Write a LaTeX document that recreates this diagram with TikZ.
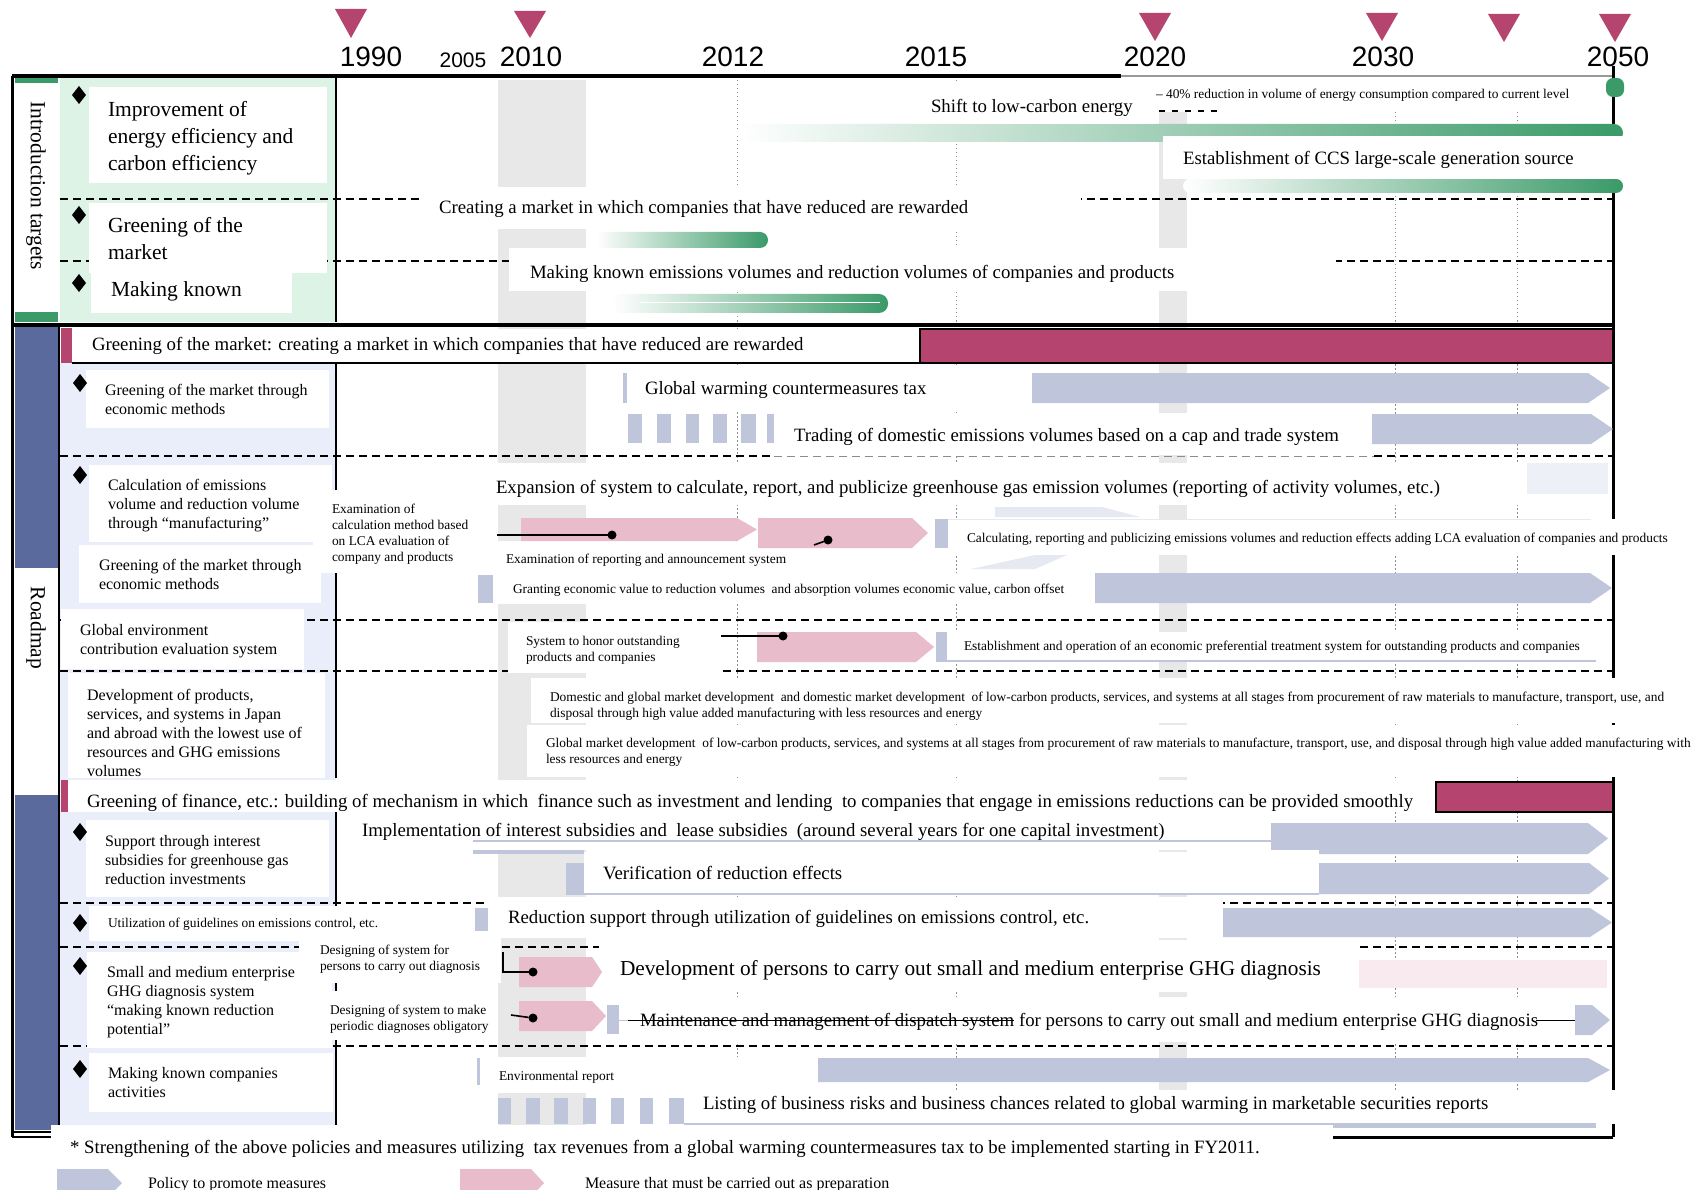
\documentclass[tikz,border=0pt]{standalone}
\usepackage{fontspec}
\setmainfont{Liberation Serif}
\newfontfamily\yearfont{Liberation Sans}
\usetikzlibrary{shapes.geometric}
\definecolor{mag}{HTML}{B5446E}
\definecolor{grn}{HTML}{3A9A68}
\definecolor{lgrn}{HTML}{DDF3E6}
\definecolor{lblue}{HTML}{E9EEFA}
\definecolor{dblue}{HTML}{5B6A9C}
\definecolor{lav}{HTML}{BFC5DA}
\definecolor{pnk}{HTML}{E8BCCB}
\definecolor{band}{HTML}{E8E8E8}
\definecolor{ppink}{HTML}{F8EAEF}
\definecolor{plav}{HTML}{E6E9F2}
% chevron bar: style, x-left, x-right, y-top, y-bottom, tip length
\newcommand{\barchev}[6]{\fill[#1] (#2,#4) -- ({#3-#6},#4) -- (#3,{(#4+#5)/2}) -- ({#3-#6},#5) -- (#2,#5) -- cycle;}
\begin{document}
\begin{tikzpicture}[x=1pt,y=-1pt,
  every node/.style={inner sep=0pt,outer sep=0pt},
  fL/.style={font=\fontsize{21.5}{26.7}\selectfont},
  fB/.style={font=\fontsize{18.8}{22}\selectfont},
  fM/.style={font=\fontsize{16}{19}\selectfont},
  fS/.style={font=\fontsize{13.4}{16}\selectfont},
  fX/.style={font=\fontsize{21.3}{25}\selectfont},
  yr/.style={font=\yearfont\fontsize{28}{30}\selectfont},
  yrs/.style={font=\yearfont\fontsize{21}{23}\selectfont},
  one/.style={anchor=west, yshift=-1.5pt},
  multi/.style={anchor=north west, align=left, yshift=-1.5pt},
  dia/.style={diamond, fill=black, minimum width=14pt, minimum height=18pt},
  dotn/.style={circle, fill=black, minimum size=9pt},
  sep/.style={line width=2pt, dash pattern=on 8pt off 5pt},
  grid/.style={black!45, line width=0.8pt, dash pattern=on 1.5pt off 2.5pt},
  frame/.style={line width=3pt},
  conn/.style={line width=1.6pt},
  pol/.style={lav},
  prep/.style={pnk},
]
\useasboundingbox (0,0) rectangle (1692,1190);
\clip (0,0) rectangle (1692,1190);
\fill[white] (0,0) rectangle (1692,1190);

% ---------- left column backgrounds ----------
\fill[lgrn] (60,78) rectangle (336,322);
\fill[lblue] (60,363) rectangle (336,1128);
\fill[grn] (15,78) rectangle (58,322);
\fill[white] (15,83) rectangle (58,312);
\fill[dblue] (15,327) rectangle (58,1130);
\fill[white] (15,568) rectangle (58,795);

% ---------- year bands and grid ----------
\fill[band] (498,80) rectangle (586,1125);
\fill[band] (1159,80) rectangle (1187,1125);
\foreach \x in {737,956,1395,1517} \draw[grid] (\x,76) -- (\x,1128);

% ---------- row separators ----------
\draw[sep] (60,199) -- (1613,199);
\draw[sep] (60,261) -- (1613,261);
\draw[sep] (60,456) -- (774,456);
\draw[black!45, line width=1pt, dash pattern=on 8pt off 5pt] (774,456) -- (1374,456);
\draw[sep] (1374,456) -- (1613,456);
\foreach \y in {620,671,903,947,1046} \draw[sep] (60,\y) -- (1613,\y);

% ---------- frame ----------
\draw[line width=3.5pt] (12,76) -- (1121,76);
\draw[black!40, line width=1.2pt] (1121,76) -- (1613,76);
\draw[frame] (12,76) -- (12,1137);
\draw[frame] (1613,66) -- (1613,1137);
\draw[line width=4pt] (12,325) -- (1613,325);
\draw[line width=2.5pt] (59,325) -- (59,1130);
\draw[line width=2pt] (336,78) -- (336,322);
\draw[line width=2pt] (336,363) -- (336,778);
\draw[line width=2pt] (336,812) -- (336,1128);
\draw[frame] (1333,1137) -- (1613,1137);
\draw[line width=1.5pt] (12,1132) -- (51,1132) (12,1137) -- (51,1137);

% ---------- target bars ----------
\shade[left color=white,right color=grn,rounded corners=9pt] (737,124) rectangle (1623,142);
\shade[left color=white,right color=grn,rounded corners=7pt] (1183,179) rectangle (1623,193);
\shade[left color=white,right color=grn,rounded corners=8pt] (596,232) rectangle (768,248);
\shade[left color=white,right color=grn,rounded corners=9pt] (612,294) rectangle (888,313);
\draw[white, line width=0.8pt] (640,302) -- (880,302);
\fill[grn, rounded corners=7pt] (1606,78) rectangle (1624,97);

% faint remains of an arrow behind the LCA row
\fill[plav] (995,507) -- (1102,507) -- (1140,517) -- (995,517) -- cycle;
\fill[plav] (1035,555) -- (1067,555) -- (1035,569) -- (971,569) -- cycle;

% ---------- white label boxes ----------
\fill[white] (89,87) rectangle (327,183);
\fill[white] (89,203) rectangle (327,273);
\fill[white] (91,273) rectangle (292,313);
\fill[white] (420,187) rectangle (1081,229);
\fill[white] (509,248) rectangle (1336,291);
\fill[white] (912,83) rectangle (1156,124);
\fill[white] (1156,78) rectangle (1605,112);
\fill[white] (1163,136) rectangle (1623,179);
\fill[white] (72,329) rectangle (920,363);
\fill[white] (86,370) rectangle (329,428);
\fill[white] (623,365) rectangle (1032,410);
\fill[white] (774,413) rectangle (1372,455);
\fill[white] (89,465) rectangle (332,542);
\fill[white] (79,545) rectangle (321,603);
\fill[white] (313,490) rectangle (476,573);
\fill[white] (476,463) rectangle (1527,505);
\fill[white] (476,541) rectangle (800,575);
\fill[white] (493,573) rectangle (1095,604);
\fill[white] (948,519) rectangle (1680,555);
\fill[white] (61,609) rectangle (304,669);
\fill[white] (508,622) rectangle (718,673);
\fill[white] (947,632) rectangle (1596,661);
\fill[white] (68,673) rectangle (325,778);
\fill[white] (531,678) rectangle (1692,723);
\fill[white] (527,725) rectangle (1692,777);
\fill[white] (68,780) rectangle (1436,812);
\fill[white] (86,820) rectangle (329,897);
\fill[white] (340,812) rectangle (1272,850);
\fill[white] (584,852) rectangle (1319,894);
\fill[white] (89,906) rectangle (440,941);
\fill[white] (488,897) rectangle (1223,938);
\fill[white] (87,952) rectangle (332,1048);
\fill[white] (299,938) rectangle (501,983);
\fill[white] (327,991) rectangle (490,1040);
\fill[white] (599,940) rectangle (1359,992);
\fill[white] (626,997) rectangle (1575,1042);
\fill[white] (89,1053) rectangle (333,1112);
\fill[white] (480,1057) rectangle (818,1093);
\fill[white] (684,1090) rectangle (1620,1124);
\fill[white] (51,1125) rectangle (1333,1190);

% ---------- section headers ----------
\fill[mag] (61,328) rectangle (72,363);
\draw[line width=1.5pt] (72,363) -- (920,363);
\filldraw[fill=mag, draw=black, line width=2pt] (920,329) rectangle (1613,363);
\fill[mag] (61,780) rectangle (68,812);
\filldraw[fill=mag, draw=black, line width=2pt] (1436,782) rectangle (1613,812);

% ---------- policy and preparation arrows ----------
\barchev{pol}{1032}{1610}{373}{403}{22}
\barchev{pol}{1372}{1613}{414}{444}{22}
\barchev{prep}{521}{757}{518}{541}{20}
\barchev{prep}{758}{928}{518}{548}{16}
\barchev{pol}{1095}{1612}{573}{603}{22}
\barchev{prep}{757}{934}{632}{662}{18}
\barchev{pol}{1271}{1608}{823}{854}{20}
\fill[white] (1271,850) rectangle (1319,855);
\barchev{pol}{1319}{1609}{863}{894}{20}
\barchev{pol}{1223}{1612}{908}{937}{22}
\barchev{prep}{519}{602}{957}{987}{10}
\barchev{prep}{519}{606}{1001}{1031}{14}
\barchev{pol}{1575}{1610}{1005}{1035}{18}
\barchev{pol}{818}{1610}{1058}{1082}{22}
\barchev{pol}{57}{122}{1169}{1197}{14}
\barchev{prep}{460}{544}{1169}{1197}{13}

% short policy markers and dashed policy blocks
\fill[lav] (623,373) rectangle (627,403);
\foreach \a/\b in {628/642,657/671,686/699,713/727,741/756,767/774} \fill[lav] (\a,414) rectangle (\b,443);
\fill[lav] (478,575) rectangle (493,603);
\fill[lav] (935,519) rectangle (948,548);
\draw[plav, line width=1pt] (948,519) -- (1591,519);
\fill[lav] (936,632) rectangle (947,662);
\draw[lav, line width=1.5pt] (947,661) -- (1596,661);
\draw[lav, line width=1.2pt] (473,841) -- (1272,841);
\fill[lav] (473,850) rectangle (584,854);
\fill[lav] (566,863) rectangle (584,895);
\draw[lav, line width=2pt] (584,894) -- (1319,894);
\fill[lav] (475,908) rectangle (488,931);
\fill[lav] (607,1005) rectangle (619,1034);
\draw[lav, line width=1pt] (619,1020) -- (628,1020);
\fill[ppink] (1359,960) rectangle (1607,988);
\fill[lav] (477,1058) rectangle (480,1085);
\foreach \a/\b in {498/511,526/540,554/568,583/596,611/624,640/653,669/684} \fill[lav] (\a,1098) rectangle (\b,1124);
\draw[lav, line width=1.2pt] (684,1124) -- (1596,1124);
\fill[lav] (1333,1124) rectangle (1596,1128);
\fill[plav!70] (1527,463) rectangle (1608,494);

% ---------- milestone connectors ----------
\coordinate (c1) at (497,535);
\node[dotn] (d1) at (612,535) {};
\draw[conn] (c1) -- (d1);
\coordinate (c2) at (814,545);
\node[dotn] (d2) at (828,540) {};
\draw[conn] (c2) -- (d2);
\coordinate (c3) at (721,636);
\node[dotn] (d3) at (783,636) {};
\draw[conn] (c3) -- (d3);
\coordinate (c4) at (503,952);
\node[dotn] (d4) at (533,972) {};
\draw[conn] (c4) |- (d4);
\coordinate (c5) at (511,1015);
\node[dotn] (d5) at (533,1018) {};
\draw[conn] (c5) -- (d5);
\coordinate (m1) at (628,1020);
\coordinate (m2) at (1014,1020);
\coordinate (m3) at (1536,1020);
\coordinate (m4) at (1575,1020);
\draw[line width=1pt] (m1) -- (m2) (m3) -- (m4);
\coordinate (k1) at (1159,111);
\coordinate (k2) at (1222,111);
\draw[line width=1.5pt, dash pattern=on 6pt off 7pt] (k1) -- (k2);

% ---------- timeline header ----------
\foreach \cx/\ya/\yb in {351/9/38,530/11/38,1155/13/41,1382/13/41,1504/14/42,1615/14/42}
  \fill[mag] ({\cx-16},\ya) -- ({\cx+16},\ya) -- (\cx,\yb) -- cycle;
\node[yr] (y1990) at (371,57) {1990};
\node[yrs] (y2005) at (463,60) {2005};
\node[yr] (y2010) at (531,57) {2010};
\node[yr] (y2012) at (733,57) {2012};
\node[yr] (y2015) at (936,57) {2015};
\node[yr] (y2020) at (1155,57) {2020};
\node[yr] (y2030) at (1383,57) {2030};
\node[yr] (y2050) at (1618,57) {2050};

% ---------- introduction targets ----------
\node[fL, rotate=-90] (intro) at (36,186) {Introduction targets};
\node[dia] (dm1) at (79,95) {};
\node[dia] (dm2) at (79,215) {};
\node[dia] (dm3) at (79,283) {};
\node[fL, multi] (ti1) at (108,100) {Improvement of\\energy efficiency and\\carbon efficiency};
\node[fL, multi] (ti2) at (108,216) {Greening of the\\market};
\node[fL, one] (ti3) at (111,290) {Making known};
\node[fB, one] (tcreate) at (439,208) {Creating a market in which companies that have reduced are rewarded};
\node[fB, one] (tmake) at (530,272) {Making known emissions volumes and reduction volumes of companies and products};
\node[fB, one] (tshift) at (931,106) {Shift to low-carbon energy};
\node[fS, one] (t40) at (1156,94) {– 40\% reduction in volume of energy consumption compared to current level};
\node[fB, one] (tccs) at (1183,158) {Establishment of CCS large-scale generation source};

% ---------- roadmap ----------
\node[fL, rotate=-90] (road) at (36,628) {Roadmap};
\node[fB, one] (h1) at (92,344) {Greening of the market: creating a market in which companies that have reduced are rewarded};
\node[dia] (dmA) at (80,383) {};
\node[fM, multi] (lA) at (105,383) {Greening of the market through\\economic methods};
\node[fB, one] (tgwt) at (645,389) {Global warming countermeasures tax};
\node[fB, one] (ttrade) at (794,435) {Trading of domestic emissions volumes based on a cap and trade system};
\node[dia] (dmB) at (80,475) {};
\node[fM, multi] (lB1) at (108,478) {Calculation of emissions\\volume and reduction volume\\through “manufacturing”};
\node[fM, multi] (lB2) at (99,558) {Greening of the market through\\economic methods};
\node[fS, multi] (texam) at (332,503) {Examination of\\calculation method based\\on LCA evaluation of\\company and products};
\node[fB, one] (texp) at (496,487) {Expansion of system to calculate, report, and publicize greenhouse gas emission volumes (reporting of activity volumes, etc.)};
\node[fS, one] (texrep) at (506,559) {Examination of reporting and announcement system};
\node[fS, one] (tgrant) at (513,589) {Granting economic value to reduction volumes~ and absorption volumes economic value, carbon offset};
\node[fS, one] (tcalc) at (967,538) {Calculating, reporting and publicizing emissions volumes and reduction effects adding LCA evaluation of companies and products};
\node[fM, multi] (lC) at (80,623) {Global environment\\contribution evaluation system};
\node[fS, multi] (thonor) at (526,635) {System to honor outstanding\\products and companies};
\node[fS, one] (test) at (964,646) {Establishment and operation of an economic preferential treatment system for outstanding products and companies};
\node[fM, multi] (lD) at (87,688) {Development of products,\\services, and systems in Japan\\and abroad with the lowest use of\\resources and GHG emissions\\volumes};
\node[fS, multi] (tdom) at (550,691) {Domestic and global market development~ and domestic market development~ of low-carbon products, services, and systems at all stages from procurement of raw materials to manufacture, transport, use, and\\disposal through high value added manufacturing with less resources and energy};
\node[fS, multi] (tglob) at (546,737) {Global market development~ of low-carbon products, services, and systems at all stages from procurement of raw materials to manufacture, transport, use, and disposal through high value added manufacturing with\\less resources and energy};
\node[fB, one] (h2) at (87,801) {Greening of finance, etc.: building of mechanism in which~ finance such as investment and lending~ to companies that engage in emissions reductions can be provided smoothly};
\node[dia] (dmE) at (80,832) {};
\node[fM, multi] (lE) at (105,834) {Support through interest\\subsidies for greenhouse gas\\reduction investments};
\node[fB, one] (timpl) at (362,830) {Implementation of interest subsidies and~ lease subsidies~ (around several years for one capital investment)};
\node[fB, one] (tverif) at (603,872) {Verification of reduction effects};
\node[dia] (dmF) at (80,923) {};
\node[fS, one] (lF) at (108,923) {Utilization of guidelines on emissions control, etc.};
\node[fB, one] (tred) at (508,917) {Reduction support through utilization of guidelines on emissions control, etc.};
\node[dia] (dmG) at (80,966) {};
\node[fM, multi] (lG) at (107,965) {Small and medium enterprise\\GHG diagnosis system\\“making known reduction\\potential”};
\node[fS, multi] (tdes1) at (320,944) {Designing of system for\\persons to carry out diagnosis};
\node[fS, multi] (tdes2) at (330,1004) {Designing of system to make\\periodic diagnoses obligatory};
\node[fX, one] (tdev) at (620,969) {Development of persons to carry out small and medium enterprise GHG diagnosis};
\node[fB, one] (tmaint) at (640,1020) {Maintenance and management of dispatch system for persons to carry out small and medium enterprise GHG diagnosis};
\node[dia] (dmH) at (80,1069) {};
\node[fM, multi] (lH) at (108,1066) {Making known companies\\activities};
\node[fS, one] (tenv) at (499,1076) {Environmental report};
\node[fB, one] (tlist) at (703,1103) {Listing of business risks and business chances related to global warming in marketable securities reports};

% ---------- footnote and legend ----------
\node[fB, one] (foot) at (70,1147) {* Strengthening of the above policies and measures utilizing~ tax revenues from a global warming countermeasures tax to be implemented starting in FY2011.};
\node[fM, one] (lgpol) at (148,1183) {Policy to promote measures};
\node[fM, one] (lgprep) at (585,1183) {Measure that must be carried out as preparation};
\end{tikzpicture}
\end{document}
